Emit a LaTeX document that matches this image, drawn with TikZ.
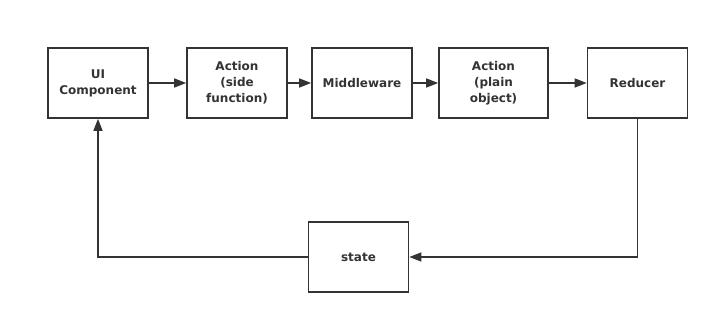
\documentclass[tikz,border=0pt]{standalone}
\usepackage{fontspec}
\setmainfont{DejaVu Sans}
\usetikzlibrary{arrows.meta}
\definecolor{ink}{HTML}{333333}
\begin{document}
\begin{tikzpicture}[x=1pt,y=-1pt,
  box/.style={draw=ink,line width=1.6pt,minimum width=100pt,minimum height=70pt,inner sep=0pt,
    align=center,font=\bfseries\fontsize{12pt}{16pt}\selectfont,text=ink},
  conn/.style={draw=ink,line width=1.4pt,-{Triangle[length=12pt,width=9pt]}}]
\useasboundingbox (0,0) rectangle (719,323);
\node[box] (ui) at (98,83) {UI\\Component};
\node[box] (as) at (237,83) {Action\\(side\\function)};
\node[box] (mw) at (362,83) {Middleware};
\node[box,minimum width=109pt] (ap) at (493.5,83) {Action\\(plain\\object)};
\node[box] (rd) at (637.5,83) {Reducer};
\node[box] (st) at (358.5,257) {state};
\draw[conn] (ui) -- (as);
\draw[conn] (as) -- (mw);
\draw[conn] (mw) -- (ap);
\draw[conn] (ap) -- (rd);
\draw[conn] (rd.south) |- (st.east);
\draw[conn] (st.west) -| (ui.south);
\end{tikzpicture}
\end{document}
